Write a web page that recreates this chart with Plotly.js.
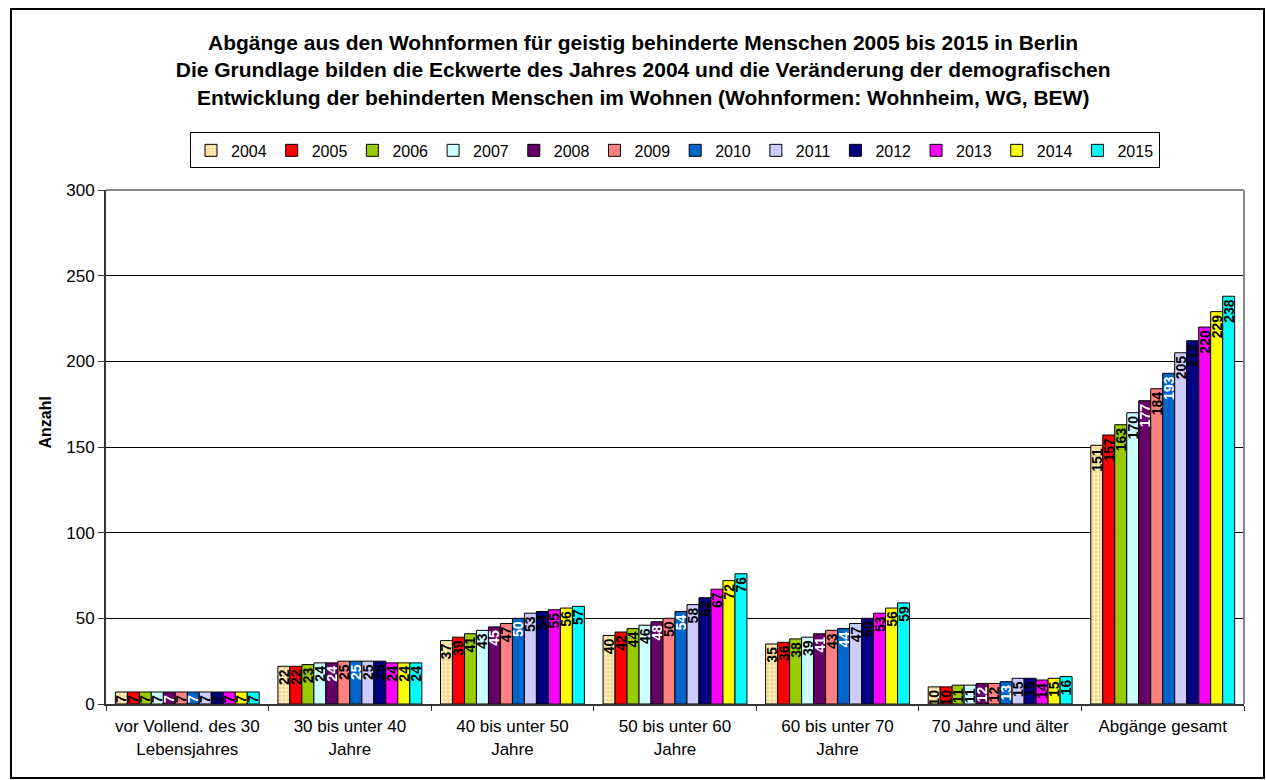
<!DOCTYPE html>
<html>
<head>
<meta charset="utf-8">
<script src="https://cdn.plot.ly/plotly-3.0.1.min.js"></script>
<style>
  html, body { margin: 0; padding: 0; background: #fff; }
  #chart { width: 1266px; height: 780px; }
</style>
</head>
<body>
<div id="chart"></div>
<script>
const categories = [
  'vor Vollend. des 30<br>Lebensjahres',
  '30 bis unter 40<br>Jahre',
  '40 bis unter 50<br>Jahre',
  '50 bis unter 60<br>Jahre',
  '60 bis unter 70<br>Jahre',
  '70 Jahre und älter',
  'Abgänge gesamt'
];

const years = ['2004', '2005', '2006', '2007', '2008', '2009', '2010', '2011', '2012', '2013', '2014', '2015'];

/* one array per age group, values for 2004..2015 */
const unter30 = [7, 7, 7, 7, 7, 7, 7, 7, 7, 7, 7, 7];
const bis40 = [22, 22, 23, 24, 24, 25, 25, 25, 25, 24, 24, 24];
const bis50 = [37, 39, 41, 43, 45, 47, 50, 53, 54, 55, 56, 57];
const bis60 = [40, 42, 44, 46, 48, 50, 54, 58, 62, 67, 72, 76];
const bis70 = [35, 36, 38, 39, 41, 43, 44, 47, 50, 53, 56, 59];
const ab70 = [10, 10, 11, 11, 12, 12, 13, 15, 15, 14, 15, 16];
const gesamt = [151, 157, 163, 170, 177, 184, 193, 205, 212, 220, 229, 238];

const groups = [unter30, bis40, bis50, bis60, bis70, ab70, gesamt];

const colors = ['#FFF3C4', '#FF0000', '#99CC00', '#CCFFFF', '#660066', '#FF8080',
                '#0066CC', '#CCCCFF', '#000080', '#FF00FF', '#FFFF00', '#00FFFF'];
const labelColors = ['#000', '#000', '#000', '#000', '#fff', '#000',
                     '#fff', '#000', '#000', '#000', '#000', '#000'];

const font = 'Arial, "Liberation Sans", sans-serif';

let data = years.map((yr, i) => {
  let trace = {
    type: 'bar',
    name: yr,
    x: categories,
    y: groups.map(g => g[i]),
    marker: { color: colors[i], line: { color: '#000', width: 1 } },
    texttemplate: '<b>%{y}</b>',
    textposition: 'inside',
    insidetextanchor: 'end',
    textangle: -90,
    textfont: { family: font, size: 14, color: labelColors[i] },
    hoverinfo: 'x+y+name'
  };
  if (i === 0) {
    trace.marker.pattern = { shape: '+', fgcolor: '#EDB94A', bgcolor: '#FFF6D0', size: 4, solidity: 0.3 };
  }
  return trace;
});

let layout = {
  width: 1266,
  height: 780,
  margin: { l: 106, r: 22, t: 190, b: 76 },
  paper_bgcolor: '#fff',
  plot_bgcolor: '#fff',
  font: { family: font, size: 16, color: '#000' },
  title: {
    text: '<b>Abgänge aus den Wohnformen für geistig behinderte Menschen 2005 bis 2015 in Berlin<br>' +
          'Die Grundlage bilden die Eckwerte des Jahres 2004 und die Veränderung der demografischen<br>' +
          'Entwicklung der behinderten Menschen im Wohnen (Wohnformen: Wohnheim, WG, BEW)</b>',
    font: { family: font, size: 21, color: '#000' },
    x: 0.508,
    xanchor: 'center',
    y: 0.936,
    yanchor: 'top'
  },
  barmode: 'group',
  bargap: 0.115,
  bargroupgap: 0,
  uniformtext: { minsize: 14, mode: 'show' },
  showlegend: true,
  legend: {
    orientation: 'h',
    x: 0.5,
    xanchor: 'center',
    y: 1.112,
    yanchor: 'top',
    bordercolor: '#000',
    borderwidth: 1,
    bgcolor: '#fff',
    font: { family: font, size: 16, color: '#000' },
    itemwidth: 30,
    traceorder: 'normal'
  },
  xaxis: {
    type: 'category',
    showline: true,
    linecolor: '#333',
    linewidth: 2,
    ticks: 'outside',
    tickson: 'boundaries',
    ticklen: 5,
    tickcolor: '#333',
    ticklabelstandoff: 6,
    tickfont: { family: font, size: 17, color: '#000' },
    showgrid: false
  },
  yaxis: {
    range: [0, 300],
    dtick: 50,
    showline: true,
    linecolor: '#333',
    linewidth: 2,
    ticks: 'outside',
    ticklen: 6,
    tickcolor: '#333',
    gridcolor: '#000',
    gridwidth: 1,
    zeroline: false,
    tickfont: { family: font, size: 17, color: '#000' }
  },
  annotations: [
    { text: '<b>Anzahl</b>', xref: 'paper', yref: 'paper', x: -0.053, y: 0.547,
      xanchor: 'center', yanchor: 'middle', textangle: -90, showarrow: false,
      font: { family: font, size: 16, color: '#000' } }
  ],
  shapes: [
    /* gray plot-area border on top and right */
    { type: 'line', xref: 'paper', yref: 'paper', x0: 0, x1: 1, y0: 1, y1: 1, line: { color: '#888', width: 2 } },
    { type: 'line', xref: 'paper', yref: 'paper', x0: 1, x1: 1, y0: 0, y1: 1, line: { color: '#888', width: 2 } },
    /* outer chart frame */
    { type: 'rect', xref: 'paper', yref: 'paper', x0: -0.0835, x1: 1.0176, y0: -0.144, y1: 1.352,
      line: { color: '#000', width: 2 }, layer: 'below' }
  ]
};

Plotly.newPlot('chart', data, layout, { displayModeBar: false });
</script>
</body>
</html>
